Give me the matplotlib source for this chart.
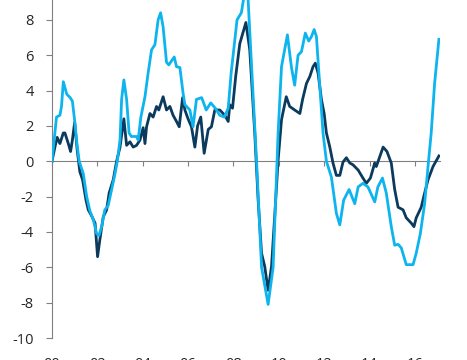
import matplotlib
matplotlib.use("Agg")
import matplotlib.pyplot as plt

# light blue series (decimal year, value)
light_x = [2000.0, 2000.2, 2000.35, 2000.42, 2000.5, 2000.65, 2000.8, 2000.9, 2001.0, 2001.1,
           2001.2, 2001.38, 2001.53, 2001.67, 2001.82, 2001.97, 2002.07, 2002.19, 2002.33, 2002.48,
           2002.63, 2002.78, 2002.88, 2003.0, 2003.07, 2003.17, 2003.29, 2003.4, 2003.5, 2003.73,
           2003.8, 2003.92, 2004.1, 2004.24, 2004.39, 2004.54, 2004.68, 2004.79, 2004.9, 2005.05,
           2005.15, 2005.39, 2005.49, 2005.64, 2005.78, 2005.86, 2006.08, 2006.22, 2006.37, 2006.6,
           2006.8, 2007.0, 2007.2, 2007.4, 2007.6, 2007.77, 2007.9, 2008.16, 2008.35, 2008.5,
           2008.62, 2009.02, 2009.24, 2009.53, 2009.75, 2009.97, 2010.12, 2010.38, 2010.56, 2010.7,
           2010.85, 2011.0, 2011.17, 2011.32, 2011.44, 2011.56, 2011.66, 2011.8, 2011.95, 2012.1,
           2012.32, 2012.54, 2012.69, 2012.86, 2013.1, 2013.35, 2013.5, 2013.71, 2013.93, 2014.23,
           2014.37, 2014.57, 2014.74, 2014.96, 2015.11, 2015.26, 2015.4, 2015.62, 2015.92, 2016.06,
           2016.24, 2016.43, 2016.58, 2016.72, 2016.87, 2017.06]
light_y = [0.0, 2.5, 2.6, 3.1, 4.5, 3.8, 3.6, 3.4, 2.3, 1.0,
           0.0, -0.7, -2.0, -2.8, -3.3, -4.1, -4.2, -3.7, -2.75, -2.5,
           -1.6, -0.7, 0.0, 1.2, 3.5, 4.6, 3.5, 1.6, 1.4, 1.4,
           1.2, 2.5, 3.65, 5.0, 6.3, 6.6, 8.0, 8.4, 7.6, 5.6,
           5.45, 5.9, 5.35, 5.3, 3.85, 3.2, 2.9, 1.95, 3.5, 3.6,
           2.9, 3.3, 3.0, 2.6, 2.5, 3.0, 5.0, 8.0, 8.4, 9.6,
           9.8, 0.0, -6.0, -8.1, -6.0, 1.6, 5.35, 7.15, 5.3, 4.3,
           6.0, 6.2, 7.25, 6.8, 7.05, 7.45, 7.05, 4.4, 1.6, 0.0,
           -0.9, -2.95, -3.6, -2.2, -1.6, -2.4, -1.45, -1.25, -1.45, -2.3,
           -1.45, -0.95, -1.8, -3.7, -4.75, -4.7, -4.9, -5.85, -5.85, -5.2,
           -4.1, -2.4, -0.3, 1.6, 4.4, 6.9]

# dark blue series (decimal year, value)
dark_x = [2000.0, 2000.13, 2000.23, 2000.35, 2000.5, 2000.57, 2000.72, 2000.82, 2000.9, 2001.0,
          2001.11, 2001.23, 2001.35, 2001.5, 2001.6, 2001.75, 2001.9, 2002.01, 2002.11, 2002.26,
          2002.41, 2002.52, 2002.7, 2002.85, 2003.0, 2003.17, 2003.29, 2003.44, 2003.58, 2003.73,
          2003.88, 2004.02, 2004.1, 2004.17, 2004.32, 2004.46, 2004.61, 2004.71, 2004.9, 2005.05,
          2005.2, 2005.34, 2005.49, 2005.61, 2005.76, 2005.86, 2006.0, 2006.15, 2006.3, 2006.42,
          2006.56, 2006.71, 2006.89, 2007.03, 2007.18, 2007.4, 2007.62, 2007.77, 2007.84, 2007.96,
          2008.1, 2008.28, 2008.55, 2008.72, 2008.94, 2009.09, 2009.24, 2009.38, 2009.53, 2009.68,
          2009.82, 2009.97, 2010.12, 2010.33, 2010.48, 2010.7, 2010.93, 2011.05, 2011.22, 2011.37,
          2011.51, 2011.61, 2011.73, 2011.88, 2012.0, 2012.1, 2012.25, 2012.39, 2012.54, 2012.69,
          2012.83, 2012.98, 2013.13, 2013.27, 2013.5, 2013.71, 2013.86, 2014.04, 2014.23, 2014.3,
          2014.45, 2014.6, 2014.77, 2014.96, 2015.11, 2015.26, 2015.48, 2015.62, 2015.84, 2015.96,
          2016.06, 2016.28, 2016.43, 2016.58, 2016.8, 2017.06]
dark_y = [0.0, 0.8, 1.35, 1.0, 1.6, 1.6, 1.0, 0.55, 1.2, 2.2,
          0.65, -0.6, -1.05, -2.2, -2.75, -3.1, -3.5, -5.4, -4.45, -3.15,
          -2.75, -1.8, -1.05, 0.0, 0.8, 2.4, 0.9, 1.1, 0.8, 0.9,
          1.2, 1.9, 1.0, 1.95, 2.7, 2.5, 3.1, 2.9, 3.65, 2.9,
          3.1, 2.6, 2.25, 1.95, 3.6, 2.9, 2.4, 1.95, 0.8, 2.0,
          2.5, 0.45, 1.8, 1.95, 2.9, 2.9, 2.6, 2.25, 3.2, 3.0,
          4.8, 6.65, 7.85, 6.3, 1.6, -2.2, -5.2, -5.95, -7.3, -5.95,
          -3.1, 0.05, 2.35, 3.65, 3.1, 2.9, 2.7, 3.5, 4.4, 4.8,
          5.35, 5.55, 5.0, 3.5, 2.7, 1.6, 0.8, -0.1, -0.8, -0.8,
          -0.05, 0.2, -0.1, -0.2, -0.5, -0.95, -1.25, -0.95, -0.1, -0.3,
          0.25, 0.8, 0.55, -0.1, -1.6, -2.6, -2.75, -3.2, -3.5, -3.7,
          -3.2, -2.6, -1.8, -1.05, -0.3, 0.3]

tick_years = [2000, 2002, 2004, 2006, 2008, 2010, 2012, 2014, 2016]
tick_labels = ["00", "02", "04", "06", "08", "10", "12", "14", "16"]
y_ticks = [-10, -8, -6, -4, -2, 0, 2, 4, 6, 8]

plt.rcParams["font.family"] = ["Open Sans", "DejaVu Sans"]

fig = plt.figure(figsize=(4.67, 3.6), dpi=100)
ax = fig.add_axes([0.1113, 0.0611, 0.8305, 0.982])

ax.plot(dark_x, dark_y, color="#0B3A5C", linewidth=2.0, zorder=3)
ax.plot(light_x, light_y, color="#0DB4EE", linewidth=2.0, zorder=4)

ax.set_xlim(2000, 2017.1)
ax.set_ylim(-10, 10)

axis_grey = "#808080"
text_col = "#262626"

for s in ["top", "right"]:
    ax.spines[s].set_visible(False)
ax.spines["left"].set_color(axis_grey)
ax.spines["left"].set_bounds(-10, 10)
ax.spines["bottom"].set_position(("data", 0))
ax.spines["bottom"].set_color(axis_grey)

ax.set_yticks(y_ticks)
ax.set_yticklabels([str(v) for v in y_ticks])
ax.tick_params(axis="y", direction="out", length=4, color=axis_grey,
               labelsize=10.5, labelcolor=text_col, pad=9)

ax.set_xticks(tick_years)
ax.tick_params(axis="x", direction="out", length=3.5, color=axis_grey,
               labelbottom=False)

sec = ax.secondary_xaxis("bottom")
sec.set_xticks(tick_years)
sec.set_xticklabels(tick_labels)
sec.spines["bottom"].set_visible(False)
sec.tick_params(axis="x", length=0, pad=14, labelsize=10.5, labelcolor=text_col)

fig.savefig("out.png", dpi=100)
